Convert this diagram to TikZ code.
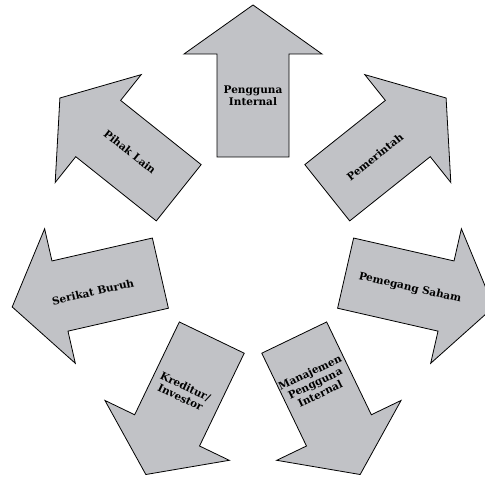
\documentclass[tikz,border=0pt]{standalone}
\usepackage{fontspec}
\setmainfont{DejaVu Serif}
\definecolor{arrowgray}{RGB}{193,194,198}
\tikzset{
  bigarrow/.style={fill=arrowgray, draw=black, line width=0.8pt, line join=miter},
  lbl/.style={font=\fontsize{10.5}{11.8}\selectfont\bfseries, align=center, inner sep=0pt}
}
\begin{document}
\begin{tikzpicture}[x=1pt,y=1pt]
\useasboundingbox (0,0) rectangle (485,478);
\clip (0,0) rectangle (485,478);
\coordinate (C) at (253,226);
\foreach \a in {90,38.571,-12.857,-64.286,-115.714,-167.143,141.429}{
  \begin{scope}[shift={(253,226)}, rotate=\a]
    \draw[bigarrow] (95,-36) -- (198,-36) -- (198,-69) -- (247,0) -- (198,69) -- (198,36) -- (95,36) -- cycle;
  \end{scope}
}
\node[lbl] (pengguna) at (253,382) {Pengguna\\Internal};
\node[lbl, rotate=38.571] (pemerintah) at (375,321) {Pemerintah};
\node[lbl, rotate=-12.857] (saham) at (410,190) {Pemegang Saham};
\node[lbl, rotate=25.714] (manajemen) at (315,95) {Manajemen\\Pengguna\\Internal};
\node[lbl, rotate=-25.714] (kreditur) at (183,86) {Kreditur/\\Investor};
\node[lbl, rotate=12.857] (buruh) at (93,186) {Serikat Buruh};
\node[lbl, rotate=-38.571] (pihak) at (130,326) {Pihak Lain};
\end{tikzpicture}
\end{document}
